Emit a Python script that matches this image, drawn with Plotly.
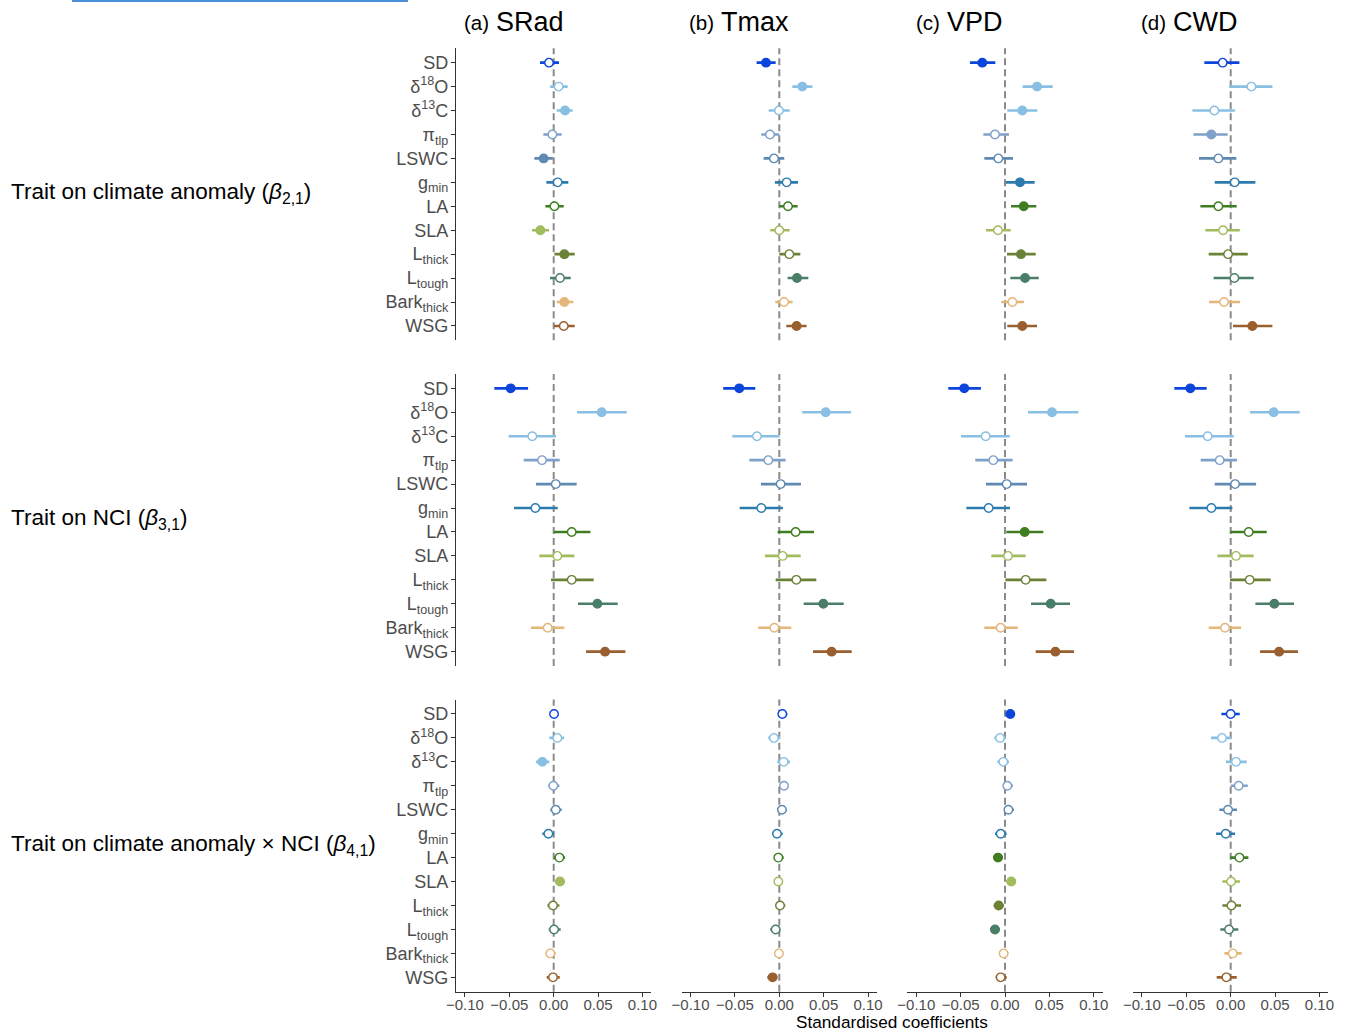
import plotly.graph_objects as go

# ---------------- data ----------------
trait_labels = ["SD", "δ<sup>18</sup>O", "δ<sup>13</sup>C", "π<sub>tlp</sub>", "LSWC",
                "g<sub>min</sub>", "LA", "SLA", "L<sub>thick</sub>", "L<sub>tough</sub>",
                "Bark<sub>thick</sub>", "WSG"]
trait_colors = ["#0B45DB", "#88BFE2", "#88BFE2", "#7FA1C9", "#5F89B1", "#2C7BAF",
                "#3F7D20", "#A2BC5D", "#6A8136", "#4B7E67", "#E4B679", "#995F2E"]
climate_vars = ["SRad", "Tmax", "VPD", "CWD"]
panel_letters = ["(a)", "(b)", "(c)", "(d)"]
row_titles = ["Trait on climate anomaly (<i>β</i><sub>2,1</sub>)",
              "Trait on NCI (<i>β</i><sub>3,1</sub>)",
              "Trait on climate anomaly × NCI (<i>β</i><sub>4,1</sub>)"]
x_ticks = [-0.10, -0.05, 0.00, 0.05, 0.10]
x_ticktext = ["−0.10", "−0.05", "0.00", "0.05", "0.10"]

# Row 1: trait on climate anomaly
anom_srad_est = [-0.0053, 0.0056, 0.0128, -0.0015, -0.0113, 0.0045, 0.0008, -0.0150, 0.0120, 0.0071, 0.0120, 0.0113]
anom_srad_lo  = [-0.0154, -0.0040, 0.0034, -0.0117, -0.0218, -0.0083, -0.0094, -0.0244, 0.0008, -0.0041, 0.0034, 0.0004]
anom_srad_hi  = [0.0060, 0.0158, 0.0214, 0.0090, -0.0010, 0.0165, 0.0113, -0.0053, 0.0237, 0.0192, 0.0222, 0.0237]
anom_srad_sig = [0, 0, 1, 0, 1, 0, 0, 1, 1, 0, 1, 0]

anom_tmax_est = [-0.0150, 0.0259, -0.0004, -0.0105, -0.0060, 0.0083, 0.0098, 0.0000, 0.0113, 0.0199, 0.0053, 0.0195]
anom_tmax_lo  = [-0.0256, 0.0147, -0.0120, -0.0203, -0.0177, -0.0049, 0.0000, -0.0102, 0.0000, 0.0094, -0.0045, 0.0079]
anom_tmax_hi  = [-0.0041, 0.0372, 0.0117, 0.0000, 0.0056, 0.0211, 0.0207, 0.0117, 0.0237, 0.0327, 0.0150, 0.0308]
anom_tmax_sig = [1, 1, 0, 0, 0, 0, 0, 0, 0, 1, 0, 1]

anom_vpd_est = [-0.0256, 0.0361, 0.0195, -0.0113, -0.0075, 0.0169, 0.0211, -0.0079, 0.0180, 0.0226, 0.0083, 0.0195]
anom_vpd_lo  = [-0.0395, 0.0199, 0.0026, -0.0244, -0.0233, 0.0011, 0.0068, -0.0214, 0.0023, 0.0060, -0.0041, 0.0026]
anom_vpd_hi  = [-0.0109, 0.0538, 0.0365, 0.0045, 0.0090, 0.0335, 0.0353, 0.0064, 0.0346, 0.0380, 0.0214, 0.0361]
anom_vpd_sig = [1, 1, 1, 0, 0, 1, 1, 0, 1, 1, 0, 1]

anom_cwd_est = [-0.0090, 0.0233, -0.0184, -0.0218, -0.0139, 0.0045, -0.0139, -0.0086, -0.0030, 0.0041, -0.0075, 0.0244]
anom_cwd_lo  = [-0.0297, -0.0015, -0.0432, -0.0421, -0.0357, -0.0180, -0.0342, -0.0286, -0.0248, -0.0192, -0.0244, 0.0026]
anom_cwd_hi  = [0.0098, 0.0470, 0.0049, -0.0034, 0.0064, 0.0278, 0.0068, 0.0102, 0.0192, 0.0259, 0.0105, 0.0470]
anom_cwd_sig = [0, 0, 0, 1, 0, 0, 0, 0, 0, 0, 0, 1]

# Row 2: trait on NCI
nci_srad_est = [-0.0485, 0.0541, -0.0241, -0.0132, 0.0023, -0.0207, 0.0203, 0.0041, 0.0203, 0.0492, -0.0068, 0.0579]
nci_srad_lo  = [-0.0669, 0.0263, -0.0508, -0.0338, -0.0199, -0.0447, 0.0000, -0.0162, -0.0030, 0.0274, -0.0256, 0.0365]
nci_srad_hi  = [-0.0289, 0.0823, 0.0026, 0.0068, 0.0259, 0.0045, 0.0414, 0.0233, 0.0451, 0.0722, 0.0120, 0.0808]
nci_srad_sig = [1, 1, 0, 0, 0, 0, 0, 0, 0, 1, 0, 1]

nci_tmax_est = [-0.0451, 0.0523, -0.0252, -0.0124, 0.0015, -0.0203, 0.0184, 0.0038, 0.0192, 0.0496, -0.0056, 0.0590]
nci_tmax_lo  = [-0.0632, 0.0259, -0.0530, -0.0338, -0.0207, -0.0447, -0.0019, -0.0162, -0.0041, 0.0274, -0.0237, 0.0380]
nci_tmax_hi  = [-0.0271, 0.0808, 0.0004, 0.0071, 0.0244, 0.0041, 0.0391, 0.0241, 0.0417, 0.0726, 0.0135, 0.0816]
nci_tmax_sig = [1, 1, 0, 0, 0, 0, 0, 0, 0, 1, 0, 1]

nci_vpd_est = [-0.0459, 0.0530, -0.0218, -0.0132, 0.0019, -0.0184, 0.0222, 0.0034, 0.0233, 0.0515, -0.0049, 0.0568]
nci_vpd_lo  = [-0.0639, 0.0259, -0.0496, -0.0335, -0.0214, -0.0436, 0.0015, -0.0154, 0.0004, 0.0293, -0.0233, 0.0346]
nci_vpd_hi  = [-0.0271, 0.0827, 0.0053, 0.0086, 0.0248, 0.0056, 0.0432, 0.0233, 0.0466, 0.0733, 0.0143, 0.0778]
nci_vpd_sig = [1, 1, 0, 0, 0, 0, 1, 0, 0, 1, 0, 1]

nci_cwd_est = [-0.0455, 0.0485, -0.0259, -0.0124, 0.0049, -0.0218, 0.0203, 0.0060, 0.0214, 0.0492, -0.0064, 0.0545]
nci_cwd_lo  = [-0.0635, 0.0218, -0.0515, -0.0338, -0.0180, -0.0466, -0.0004, -0.0150, -0.0008, 0.0278, -0.0248, 0.0331]
nci_cwd_hi  = [-0.0271, 0.0778, 0.0034, 0.0071, 0.0286, 0.0019, 0.0406, 0.0259, 0.0451, 0.0714, 0.0117, 0.0759]
nci_cwd_sig = [1, 1, 0, 0, 0, 0, 0, 0, 0, 1, 0, 1]

# Row 3: trait on climate anomaly x NCI
int_srad_est = [0.0004, 0.0041, -0.0128, -0.0004, 0.0023, -0.0060, 0.0064, 0.0071, -0.0008, 0.0004, -0.0038, -0.0008]
int_srad_lo  = [-0.0034, -0.0049, -0.0199, -0.0060, -0.0038, -0.0128, 0.0004, 0.0015, -0.0071, -0.0056, -0.0090, -0.0079]
int_srad_hi  = [0.0045, 0.0117, -0.0049, 0.0064, 0.0090, 0.0004, 0.0128, 0.0128, 0.0064, 0.0079, 0.0023, 0.0068]
int_srad_sig = [0, 0, 1, 0, 0, 0, 0, 1, 0, 0, 0, 0]

int_tmax_est = [0.0034, -0.0060, 0.0049, 0.0053, 0.0030, -0.0026, -0.0011, -0.0011, 0.0008, -0.0041, -0.0004, -0.0075]
int_tmax_lo  = [-0.0011, -0.0124, -0.0023, 0.0008, -0.0026, -0.0083, -0.0060, -0.0060, -0.0045, -0.0102, -0.0049, -0.0135]
int_tmax_hi  = [0.0090, 0.0008, 0.0120, 0.0105, 0.0083, 0.0038, 0.0049, 0.0038, 0.0068, 0.0011, 0.0041, -0.0023]
int_tmax_sig = [0, 0, 0, 0, 0, 0, 0, 0, 0, 0, 0, 1]

int_vpd_est = [0.0060, -0.0056, -0.0019, 0.0026, 0.0038, -0.0049, -0.0079, 0.0071, -0.0071, -0.0113, -0.0015, -0.0049]
int_vpd_lo  = [0.0015, -0.0120, -0.0086, -0.0015, -0.0011, -0.0113, -0.0132, 0.0015, -0.0128, -0.0169, -0.0064, -0.0105]
int_vpd_hi  = [0.0105, 0.0008, 0.0045, 0.0090, 0.0102, 0.0019, -0.0023, 0.0120, -0.0011, -0.0056, 0.0038, 0.0019]
int_vpd_sig = [1, 0, 0, 0, 0, 0, 1, 1, 1, 1, 0, 0]

int_cwd_est = [0.0000, -0.0098, 0.0060, 0.0090, -0.0030, -0.0056, 0.0098, 0.0004, 0.0008, -0.0019, 0.0023, -0.0049]
int_cwd_lo  = [-0.0105, -0.0222, -0.0053, 0.0000, -0.0128, -0.0165, -0.0004, -0.0094, -0.0094, -0.0117, -0.0071, -0.0158]
int_cwd_hi  = [0.0102, 0.0008, 0.0180, 0.0192, 0.0071, 0.0049, 0.0199, 0.0105, 0.0117, 0.0086, 0.0124, 0.0068]
int_cwd_sig = [0, 0, 0, 0, 0, 0, 0, 0, 0, 0, 0, 0]

panels = [
    [(anom_srad_est, anom_srad_lo, anom_srad_hi, anom_srad_sig),
     (anom_tmax_est, anom_tmax_lo, anom_tmax_hi, anom_tmax_sig),
     (anom_vpd_est, anom_vpd_lo, anom_vpd_hi, anom_vpd_sig),
     (anom_cwd_est, anom_cwd_lo, anom_cwd_hi, anom_cwd_sig)],
    [(nci_srad_est, nci_srad_lo, nci_srad_hi, nci_srad_sig),
     (nci_tmax_est, nci_tmax_lo, nci_tmax_hi, nci_tmax_sig),
     (nci_vpd_est, nci_vpd_lo, nci_vpd_hi, nci_vpd_sig),
     (nci_cwd_est, nci_cwd_lo, nci_cwd_hi, nci_cwd_sig)],
    [(int_srad_est, int_srad_lo, int_srad_hi, int_srad_sig),
     (int_tmax_est, int_tmax_lo, int_tmax_hi, int_tmax_sig),
     (int_vpd_est, int_vpd_lo, int_vpd_hi, int_vpd_sig),
     (int_cwd_est, int_cwd_lo, int_cwd_hi, int_cwd_sig)],
]

# ---------------- layout geometry ----------------
W, H = 1349, 1032
FONT = "Liberation Sans, Arial, Helvetica, sans-serif"
col_px = [(456.1, 651.3), (681.7, 876.9), (907.4, 1102.6), (1133.1, 1328.3)]
row_px = [(48.3, 340.3), (374.0, 666.0), (699.6, 991.7)]
XR = [-0.11, 0.11]
YR = [12.6, 0.4]
axis_col = "#333333"
tick_col = "#4D4D4D"

fig = go.Figure()
layout = dict(
    width=W, height=H, margin=dict(l=0, r=0, t=0, b=0, pad=0, autoexpand=False),
    paper_bgcolor="white", plot_bgcolor="white", showlegend=False,
    font=dict(family=FONT, color="black"),
)
shapes = []
annotations = []
ypos = list(range(1, 13))

for r in range(3):
    for c in range(4):
        idx = r * 4 + c + 1
        xa = "x" if idx == 1 else f"x{idx}"
        ya = "y" if idx == 1 else f"y{idx}"
        xkey = "xaxis" if idx == 1 else f"xaxis{idx}"
        ykey = "yaxis" if idx == 1 else f"yaxis{idx}"
        x0, x1 = col_px[c]
        yt, yb = row_px[r]
        bottom = (r == 2)
        layout[xkey] = dict(
            domain=[x0 / W, x1 / W], range=XR, anchor=ya, automargin=False,
            showgrid=False, zeroline=False, fixedrange=True,
            showline=bottom, linecolor=axis_col, linewidth=1.3,
            ticks="outside" if bottom else "", ticklen=4, tickcolor=axis_col, tickwidth=1.2,
            tickvals=x_ticks, ticktext=x_ticktext, showticklabels=bottom,
            ticklabelstandoff=-5,
            tickfont=dict(size=15, color=tick_col, family=FONT),
        )
        left = (c == 0)
        layout[ykey] = dict(
            domain=[1 - yb / H, 1 - yt / H], range=YR, anchor=xa, automargin=False,
            showgrid=False, zeroline=False, fixedrange=True,
            showline=left, linecolor=axis_col, linewidth=1.3,
            ticks="outside" if left else "", ticklen=4, tickcolor=axis_col, tickwidth=1.2,
            tickvals=ypos, ticktext=trait_labels, showticklabels=left,
            ticklabelstandoff=-1,
            tickfont=dict(size=18, color=tick_col, family=FONT),
        )
        # dashed zero line
        shapes.append(dict(type="line", xref=xa, yref=f"{ya} domain", x0=0, x1=0, y0=0, y1=1,
                           line=dict(color="#8A8A8A", width=2, dash="7px,4px"), layer="below"))
        est, lo, hi, sig = panels[r][c]
        for i in range(12):
            col = trait_colors[i]
            fig.add_trace(go.Scatter(
                x=[est[i]], y=[ypos[i]], xaxis=xa, yaxis=ya, mode="markers",
                marker=dict(size=8.5, color=col if sig[i] else "white",
                            line=dict(color=col, width=1.4)),
                error_x=dict(type="data", symmetric=False,
                             array=[hi[i] - est[i]], arrayminus=[est[i] - lo[i]],
                             color=col, thickness=2.6, width=0),
                hoverinfo="x", cliponaxis=False,
            ))

# column titles
for c in range(4):
    x0, x1 = col_px[c]
    zero_px = (x0 + x1) / 2
    annotations.append(dict(text=panel_letters[c], xref="paper", yref="paper",
                            x=(zero_px - 63) / W, y=1 - 22 / H, xanchor="right", yanchor="middle",
                            showarrow=False, font=dict(size=20.5, color="black", family=FONT)))
    annotations.append(dict(text=climate_vars[c], xref="paper", yref="paper",
                            x=(zero_px - 60) / W, y=1 - 22 / H, xanchor="left", yanchor="middle",
                            showarrow=False, font=dict(size=27, color="black", family=FONT)))

# row titles
for r in range(3):
    yt, yb = row_px[r]
    annotations.append(dict(text=row_titles[r], xref="paper", yref="paper",
                            x=9 / W, y=1 - ((yt + yb) / 2 - 1) / H, xanchor="left", yanchor="middle",
                            showarrow=False, font=dict(size=22.5, color="black", family=FONT)))

# x axis title
annotations.append(dict(text="Standardised coefficients", xref="paper", yref="paper",
                        x=892 / W, y=1 - 1022 / H, xanchor="center", yanchor="middle",
                        showarrow=False, font=dict(size=17.2, color="black", family=FONT)))

# thin blue line at the very top left (as in reference)
shapes.append(dict(type="line", xref="paper", yref="paper", x0=72 / W, x1=408 / W,
                   y0=1 - 1 / H, y1=1 - 1 / H, line=dict(color="#4A90D9", width=2)))

layout["shapes"] = shapes
layout["annotations"] = annotations
fig.update_layout(**layout)
fig.write_html("out.html", config={"displayModeBar": False},
               post_script="document.body.style.margin='0';document.body.style.padding='0';")
